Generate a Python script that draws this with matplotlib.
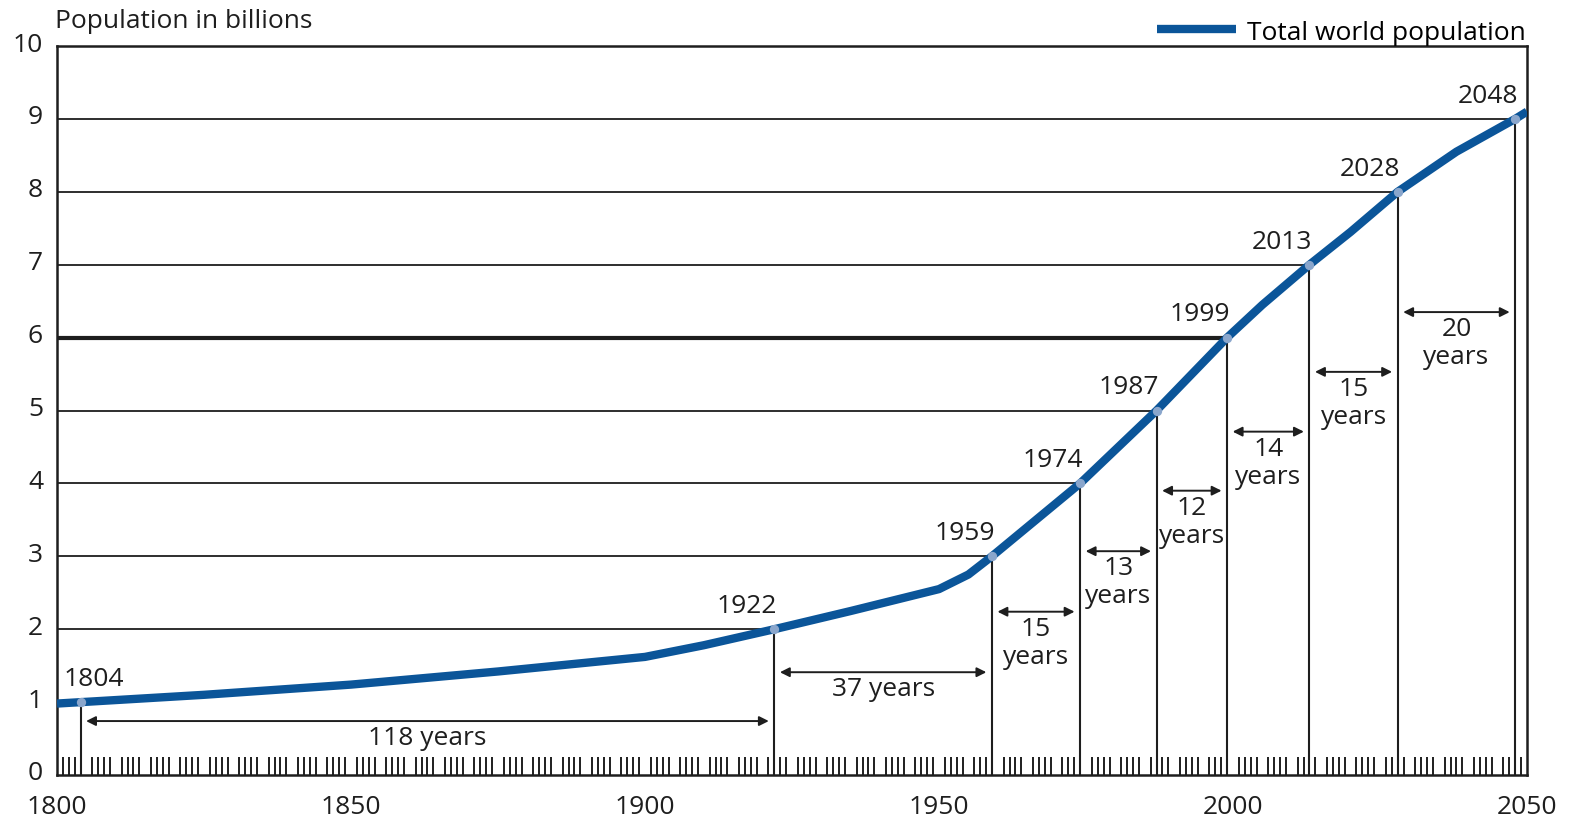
import numpy as np
import matplotlib.pyplot as plt
import matplotlib.transforms as mtransforms
from matplotlib.ticker import FixedLocator

plt.rcParams['font.family'] = ['Open Sans', 'DejaVu Sans']

# -------- DATA --------
curve_years = [1800, 1825, 1850, 1875, 1900, 1910, 1922, 1935, 1950, 1955,
               1959, 1965, 1974, 1987, 1999, 2005, 2013, 2020, 2028, 2038, 2048, 2050]
curve_pop = [0.98, 1.10, 1.24, 1.42, 1.62, 1.78, 2.0, 2.25, 2.55, 2.75,
             3.0, 3.4, 4.0, 5.0, 6.0, 6.45, 7.0, 7.45, 8.0, 8.55, 9.0, 9.1]

milestone_years = [1804, 1922, 1959, 1974, 1987, 1999, 2013, 2028, 2048]
milestone_pop = [1, 2, 3, 4, 5, 6, 7, 8, 9]

gap_labels = ["118 years", "37 years", "15\nyears", "13\nyears", "12\nyears",
              "14\nyears", "15\nyears", "20\nyears"]
gap_arrow_y = [0.74, 1.41, 2.24, 3.07, 3.90, 4.71, 5.53, 6.35]

blue = "#0b5599"
marker_col = "#8aa6cc"
ink = "#1e1e1e"
fs = 19

fig = plt.figure(figsize=(15.94, 8.29), dpi=100)
ax = fig.add_axes([57 / 1594, 1 - 776 / 829, 1470 / 1594, 729 / 829])

ax.set_xlim(1800, 2050)
ax.set_ylim(0, 10)

# -------- HORIZONTAL / VERTICAL GUIDES --------
for yr, p in zip(milestone_years, milestone_pop):
    if p > 1:
        ax.plot([1800, yr], [p, p], color=ink, lw=3.0 if p == 6 else 1.3,
                solid_capstyle="butt", zorder=2)
    ax.plot([yr, yr], [0, p], color=ink, lw=1.5, zorder=2)

# -------- CURVE --------
ax.plot(curve_years, curve_pop, color=blue, lw=6, solid_capstyle="butt",
        label="Total world population", zorder=3)
ax.scatter(milestone_years, milestone_pop, s=45, color=marker_col, zorder=4,
           linewidths=0)

# -------- YEAR LABELS --------
for i, (yr, p) in enumerate(zip(milestone_years, milestone_pop)):
    if i == 0:
        ax.annotate(str(yr), (yr, p), xytext=(-12, 8), textcoords="offset points",
                    ha="left", va="bottom", fontsize=fs, color=ink)
    else:
        ax.annotate(str(yr), (yr, p), xytext=(2, 8), textcoords="offset points",
                    ha="right", va="bottom", fontsize=fs, color=ink)

# -------- GAP ARROWS --------
for i, lab in enumerate(gap_labels):
    x0 = milestone_years[i]
    x1 = milestone_years[i + 1]
    y = gap_arrow_y[i]
    ax.annotate("", xy=(x1, y), xytext=(x0, y),
                arrowprops=dict(arrowstyle="<|-|>", color=ink, lw=1.4,
                                mutation_scale=14, shrinkA=4, shrinkB=4))
    ax.annotate(lab, ((x0 + x1) / 2, y), xytext=(0, -3), textcoords="offset points",
                ha="center", va="top", fontsize=fs, color=ink,
                linespacing=1.15)

# -------- AXES STYLE --------
for s in ax.spines.values():
    s.set_linewidth(1.8)
    s.set_color(ink)

ax.set_xticks([1800, 1850, 1900, 1950, 2000, 2050])
ax.xaxis.set_minor_locator(FixedLocator([y for y in range(1801, 2050) if y % 5 != 0]))
ax.tick_params(axis="x", which="major", length=0, labelsize=fs, pad=14, colors=ink)
ax.tick_params(axis="x", which="minor", direction="in", length=13, width=1.4, color=ink)
ax.set_yticks(range(0, 11))
ax.tick_params(axis="y", length=0, labelsize=fs, pad=10, colors=ink)
shift = mtransforms.ScaledTranslation(0, 5 / 100, fig.dpi_scale_trans)
for t in ax.get_yticklabels():
    t.set_transform(t.get_transform() + shift)

fig.text(55 / 1594, 1 - 22 / 829, "Population in billions", fontsize=fs,
         ha="left", va="center", color=ink)

ax.legend(loc="lower right", bbox_to_anchor=(1.0, 1.0), frameon=False, fontsize=fs,
          handlelength=3.0, handletextpad=0.4, borderaxespad=0.05, borderpad=0)

fig.savefig("out.png", dpi=100)
